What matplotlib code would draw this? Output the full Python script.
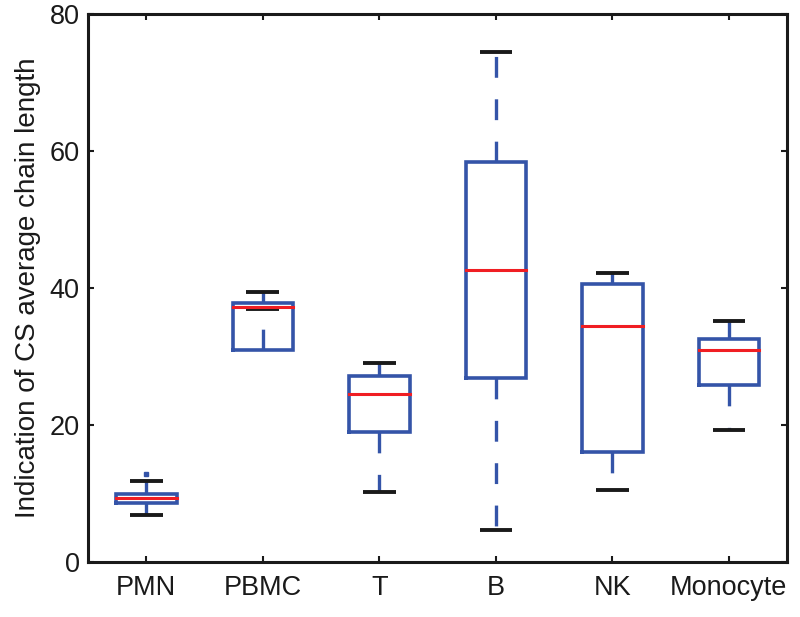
import matplotlib
matplotlib.use("Agg")
import matplotlib.pyplot as plt
import numpy as np

# values (MATLAB-style boxplot)
cell_types = ['PMN', 'PBMC', 'T', 'B', 'NK', 'Monocyte']
q1 = [8.7, 31.0, 19.0, 26.9, 16.1, 25.8]
medians = [9.4, 37.3, 24.6, 42.7, 34.5, 31.0]
q3 = [10.0, 37.8, 27.2, 58.4, 40.6, 32.6]
lower_adj = [6.9, 37.0, 10.3, 4.7, 10.5, 19.3]
upper_adj = [11.8, 39.4, 29.0, 74.5, 42.2, 35.2]
outliers = {0: [12.9]}

BLUE = '#3454a8'
RED = '#f01e23'
BLACK = '#1a1a1a'

plt.rcParams['font.family'] = ['Liberation Sans', 'DejaVu Sans']
plt.rcParams['lines.scale_dashes'] = False

fig = plt.figure(figsize=(8, 6.17), dpi=100)
ax = fig.add_axes([0.11, 0.089, 0.874, 0.888])

box_w = 0.26
cap_w = 0.14
dash = (0, (15, 15.5))

for i in range(len(cell_types)):
    x = i + 1
    # whiskers start at the box edge and run to the adjacent values
    ax.plot([x, x], [q3[i], upper_adj[i]], color=BLUE, lw=2.4, ls=dash, zorder=2)
    ax.plot([x, x], [q1[i], lower_adj[i]], color=BLUE, lw=2.4, ls=dash, zorder=2)
    ax.plot([x - cap_w, x + cap_w], [upper_adj[i]] * 2, color=BLACK, lw=2.8, zorder=4,
            solid_capstyle='butt')
    ax.plot([x - cap_w, x + cap_w], [lower_adj[i]] * 2, color=BLACK, lw=2.8, zorder=4,
            solid_capstyle='butt')
    # box
    ax.plot([x - box_w, x + box_w, x + box_w, x - box_w, x - box_w],
            [q1[i], q1[i], q3[i], q3[i], q1[i]], color=BLUE, lw=2.6, zorder=3,
            solid_joinstyle='miter')
    ax.plot([x - box_w, x + box_w], [medians[i]] * 2, color=RED, lw=2.2, zorder=5)
    for v in outliers.get(i, []):
        ax.plot([x], [v], 's', color=BLUE, ms=3, zorder=3)

ax.set_xlim(0.5, len(cell_types) + 0.5)
ax.set_ylim(0, 80)
ax.set_xticks(np.arange(1, len(cell_types) + 1))
ax.set_xticklabels(cell_types)
ax.set_yticks([0, 20, 40, 60, 80])
ax.tick_params(direction='in', length=4, width=1.5, top=True, right=True,
               labelsize=19.5, colors=BLACK)
ax.tick_params(axis='x', pad=9)
ax.tick_params(axis='y', pad=6)
for s in ax.spines.values():
    s.set_linewidth(2.2)
    s.set_color(BLACK)
ax.set_ylabel('Indication of CS average chain length', fontsize=20, color=BLACK, labelpad=6)

fig.savefig('out.png', dpi=100)
